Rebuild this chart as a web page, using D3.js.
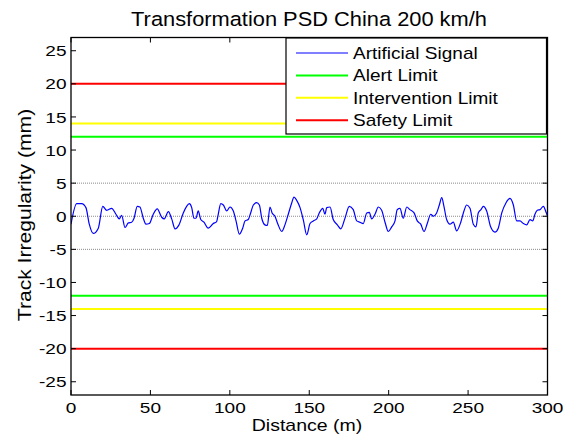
<!DOCTYPE html>
<html>
<head>
<meta charset="utf-8">
<script src="https://cdn.jsdelivr.net/npm/d3@7/dist/d3.min.js"></script>
<style>
  html, body { margin: 0; padding: 0; background: #fff; }
  svg { display: block; }
  text { font-family: "Liberation Sans", Arial, sans-serif; fill: #000; }
</style>
</head>
<body>
<svg id="chart" width="563" height="439"></svg>
<script>
// Track irregularity profile (distance in m, irregularity in mm)
const distance = [0, 3.6, 6.7, 9.4, 11.5, 14.0, 17.2, 20.0, 22.5, 25.6, 28.3, 30.4, 31.9, 34.0, 36.1, 38.2, 39.7, 41.7, 43.4, 45.5, 47.2, 49.3, 51.8, 54.3, 57.1, 58.7, 61.3, 63.4, 65.5, 68.0, 70.7, 72.8, 74.5, 76.0, 77.4, 78.7, 80.1, 81.7, 83.7, 86.4, 89.6, 91.7, 92.7, 94.3, 95.9, 98.0, 100.1, 102.2, 103.9, 106.0, 108.1, 109.6, 111.6, 113.1, 114.8, 116.9, 118.6, 120.1, 122.1, 123.6, 125.3, 126.6, 128.4, 130.1, 132.7, 134.7, 136.8, 139.0, 140.4, 142.1, 144.2, 146.3, 148.4, 150.5, 152.6, 154.7, 156.3, 158.5, 159.9, 161.0, 163.1, 165.1, 167.7, 169.8, 172.5, 175.2, 177.7, 179.9, 181.9, 184.0, 186.2, 187.8, 189.3, 191.4, 193.5, 195.6, 197.7, 199.8, 201.9, 204.0, 205.4, 207.1, 209.2, 211.4, 213.4, 216.0, 218.0, 220.2, 222.3, 224.3, 226.5, 228.1, 230.2, 231.9, 233.4, 234.8, 236.5, 238.6, 240.7, 242.8, 245.4, 247.4, 249.1, 251.2, 253.3, 255.0, 256.4, 258.1, 259.6, 261.7, 264.2, 266.9, 269.0, 271.2, 273.9, 276.4, 278.5, 280.6, 282.7, 284.8, 286.9, 289.0, 290.7, 292.1, 293.6, 295.3, 297.4, 299.1, 300];
const signal = [-1.2, 1.9, 1.9, 1.3, -1.2, -2.6, -1.8, 1.5, 0.9, 1.2, 0.3, -0.4, 0.15, -1.7, -1.0, -0.9, -0.3, 1.5, 1.4, -0.3, -1.2, -1.1, 0.3, 1.1, -0.15, -0.4, 0.7, -0.4, -1.9, -1.3, 0.5, 1.5, 1.9, 1.3, -0.3, -0.3, 0.8, -0.5, -0.9, -1.8, -1.1, -0.8, 0.3, 1.9, 1.7, 0.8, 1.4, 0.8, -0.7, -2.7, -1.8, -0.7, -0.5, 0.5, 1.7, 2.05, 1.7, -0.3, -1.3, -1.4, 1.4, 0.5, 0.0, -1.1, -2.3, -1.3, 0.3, 2.05, 2.9, 2.4, 1.3, -0.6, -2.8, -1.1, -0.7, -0.4, 0.5, 1.2, 0.3, 1.3, 1.4, -0.5, -1.3, -1.9, -0.3, 1.5, 1.0, -0.7, -0.9, -1.1, 0.5, 0.6, -0.4, 0.3, 1.4, 0.9, -0.9, -2.3, -1.6, -0.7, 1.0, 1.2, -0.3, 1.4, 1.0, 0.5, -0.7, -1.2, -2.3, -1.1, 0.3, 0.0, 0.5, 1.7, 2.8, 1.5, -0.5, -1.2, -0.9, -2.2, -0.9, 0.8, 1.7, 1.2, -1.2, -1.6, 0.5, 1.0, 1.5, 0.8, -1.6, -2.4, -1.8, 0.5, 2.05, 2.7, 1.7, -0.7, -0.7, -1.1, -1.3, -0.5, -0.7, 0.3, 0.9, 1.0, 1.5, 0.6, 0.0];

// Threshold levels (mm), drawn symmetrically at +level and -level
const limitNames = ["Alert Limit", "Intervention Limit", "Safety Limit"];
const limitLevels = [12, 14, 20];
const limitColors = ["#00ff00", "#ffff00", "#ff0000"];

// Reference lines and tick values
const refLevels = [-5, 0, 5];
const xTicks = [0, 50, 100, 150, 200, 250, 300];
const yTicks = [-25, -20, -15, -10, -5, 0, 5, 10, 15, 20, 25];

const titleText = "Transformation PSD China 200 km/h";
const xLabel = "Distance (m)";
const yLabel = "Track Irregularity (mm)";
const signalName = "Artificial Signal";

const svg = d3.select("#chart");
const plot = { left: 71, right: 547.5, top: 37.5, bottom: 395 };

const x = d3.scaleLinear().domain([0, 300]).range([plot.left, plot.right]);
const y = d3.scaleLinear().domain([-27, 27]).range([plot.bottom, plot.top]);

// Text helper: glyphs are drawn slightly wide along the reading direction
function label(g, tx, ty, str, size, stretch, anchor, rotate) {
  return g.append("text")
    .attr("transform", `translate(${tx},${ty})` + (rotate ? ` rotate(${rotate})` : "") + ` scale(${stretch},1)`)
    .attr("text-anchor", anchor)
    .style("font-size", size + "px")
    .text(str);
}

svg.append("clipPath").attr("id", "plotclip")
  .append("rect")
  .attr("x", plot.left).attr("y", plot.top)
  .attr("width", plot.right - plot.left).attr("height", plot.bottom - plot.top);

const inner = svg.append("g").attr("clip-path", "url(#plotclip)");

// Dotted reference lines
inner.selectAll("line.ref").data(refLevels).join("line")
  .attr("class", "ref")
  .attr("x1", plot.left).attr("x2", plot.right)
  .attr("y1", d => y(d)).attr("y2", d => y(d))
  .attr("stroke", "#8a8a8a").attr("stroke-width", 1)
  .attr("stroke-dasharray", "1,1");

// Limit lines at +/- level
limitLevels.forEach((lv, i) => {
  [lv, -lv].forEach(v => {
    inner.append("line")
      .attr("x1", plot.left).attr("x2", plot.right)
      .attr("y1", y(v)).attr("y2", y(v))
      .attr("stroke", limitColors[i]).attr("stroke-width", 2);
  });
});

// Signal
const line = d3.line()
  .x((d, i) => x(distance[i]))
  .y(d => y(d))
  .curve(d3.curveMonotoneX);
inner.append("path")
  .datum(signal)
  .attr("d", line)
  .attr("fill", "none")
  .attr("stroke", "#0000ff")
  .attr("stroke-width", 1.2);

// Axes box
svg.append("rect")
  .attr("x", plot.left).attr("y", plot.top)
  .attr("width", plot.right - plot.left).attr("height", plot.bottom - plot.top)
  .attr("fill", "none").attr("stroke", "#000").attr("stroke-width", 1.3);

const tickLen = 5;
const ticks = svg.append("g").attr("stroke", "#000").attr("stroke-width", 1);
yTicks.forEach(v => {
  ticks.append("line").attr("x1", plot.left).attr("x2", plot.left + tickLen).attr("y1", y(v)).attr("y2", y(v));
  ticks.append("line").attr("x1", plot.right).attr("x2", plot.right - tickLen).attr("y1", y(v)).attr("y2", y(v));
});
xTicks.forEach(v => {
  ticks.append("line").attr("x1", x(v)).attr("x2", x(v)).attr("y1", plot.bottom).attr("y2", plot.bottom - tickLen);
  ticks.append("line").attr("x1", x(v)).attr("x2", x(v)).attr("y1", plot.top).attr("y2", plot.top + tickLen);
});

const labels = svg.append("g");
yTicks.forEach(v => {
  label(labels, plot.left - 4.5, y(v) + 5.6, String(v), 15, 1.27, "end");
});
xTicks.forEach(v => {
  label(labels, x(v), plot.bottom + 18, String(v), 15, 1.27, "middle");
});

label(labels, 307, 431, xLabel, 16, 1.22, "middle");
label(labels, 30.5, 215, yLabel, 19, 1.11, "middle", -90);
label(labels, 309, 25.5, titleText, 19.5, 1.12, "middle");

// Legend
const legend = svg.append("g");
const lg = { x: 286, y: 38, w: 260.5, h: 96 };
legend.append("rect")
  .attr("x", lg.x).attr("y", lg.y).attr("width", lg.w).attr("height", lg.h)
  .attr("fill", "#fff").attr("stroke", "#000").attr("stroke-width", 1.2);

const entries = [{ name: signalName, color: "#0000ff", w: 1 }]
  .concat(limitNames.map((n, i) => ({ name: n, color: limitColors[i], w: 2 })));
entries.forEach((e, i) => {
  const cy = 53 + i * 22.4;
  legend.append("line")
    .attr("x1", 296).attr("x2", 348).attr("y1", cy).attr("y2", cy)
    .attr("stroke", e.color).attr("stroke-width", e.w);
  label(legend, 353, cy + 6, e.name, 17, 1.12, "start");
});
</script>
</body>
</html>
